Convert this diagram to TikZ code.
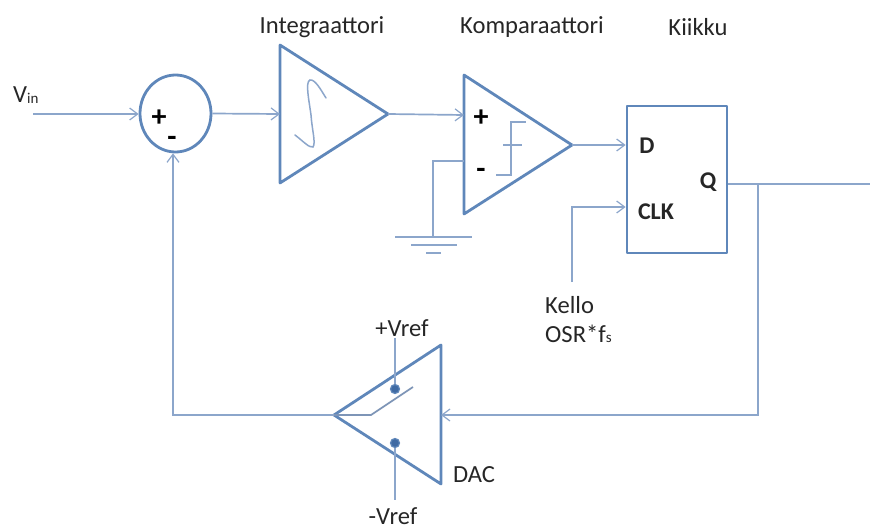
\documentclass[tikz,border=0pt]{standalone}
\usepackage{fontspec}
\setmainfont{Carlito}
\usetikzlibrary{arrows.meta,calc,shapes.geometric}
\definecolor{strong}{HTML}{5F87BA}
\definecolor{thin}{HTML}{8CA6CB}
\definecolor{dotc}{HTML}{3F6AA3}
\tikzset{
  x=1pt,y=-1pt,
  wire/.style={draw=thin,line width=1.7pt},
  arrowwire/.style={wire,-{Straight Barb[length=8pt,width=12pt,line width=1.2pt]}},
  block/.style={draw=strong,line width=2.8pt,line join=round,fill=white},
  label/.style={font=\fontsize{24.6}{26}\selectfont,text=black!85,inner sep=0pt},
  sign/.style={font=\fontsize{30}{30}\selectfont\bfseries,text=black,inner sep=0pt},
  pin/.style={font=\fontsize{24}{26}\selectfont\bfseries,text=black!85,inner sep=0pt},
  contact/.style={circle,draw=strong,fill=dotc,line width=1.2pt,minimum size=9pt,inner sep=0pt},
}
\begin{document}
\begin{tikzpicture}
\useasboundingbox (0,0) rectangle (870,530);
% named points
\coordinate (vinstart) at (33,114);
\coordinate (intA) at (280,45);
\coordinate (intB) at (280,183);
\coordinate (intT) at (388,114);
\coordinate (intIn) at (280,114);
\coordinate (cmpA) at (464,75);
\coordinate (cmpB) at (464,214);
\coordinate (cmpT) at (572,145);
\coordinate (cmpP) at (464,115);
\coordinate (cmpM) at (464,161);
\coordinate (dacT) at (334,415);
\coordinate (dacA) at (441,345);
\coordinate (dacB) at (441,484);
\coordinate (dacIn) at (441,415);
\coordinate (clkStart) at (572,282);
\coordinate (clkBend) at (572,207);
\coordinate (qEnd) at (870,184);
\coordinate (branch) at (758,184);
\coordinate (branchLow) at (758,415);
\coordinate (fbBend) at (173,415);
\coordinate (gndBend) at (433,161);
\coordinate (gnd) at (433,237);
\coordinate (upEnd) at (395,338);
\coordinate (lowEnd) at (395,500);
% filled blocks
\path[block] (intA) -- (intT) -- (intB) -- cycle;
\path[block] (cmpA) -- (cmpT) -- (cmpB) -- cycle;
\path[block] (dacT) -- (dacA) -- (dacB) -- cycle;
\node[block,ellipse,minimum width=71pt,minimum height=77pt,inner sep=0pt] (sum) at (175.5,113.5) {};
\node[block,rectangle,minimum width=100pt,minimum height=147pt,inner sep=0pt] (ff) at (677,179.5) {};
\node[contact] (up) at (395,389) {};
\node[contact] (low) at (395,443) {};
% connectors
\draw[arrowwire] (vinstart) -- (vinstart -| sum.west);
\draw[arrowwire] (sum.east) -- (intIn);
\draw[arrowwire] (intT) -- (cmpP);
\draw[arrowwire] (cmpT) -- (cmpT -| ff.west);
\draw[arrowwire] (clkStart) -- (clkBend) -- (clkBend -| ff.west);
\draw[wire] (ff.east |- qEnd) -- (qEnd);
\draw[arrowwire] (branch) -- (branchLow) -- (dacIn);
\draw[arrowwire] (dacT) -- (fbBend) -- (fbBend |- sum.south);
\draw[wire] (cmpM) -- (gndBend) -- (gnd);
\draw[wire] (395,237) -- (472,237);
\draw[wire] (411,245) -- (457,245);
\draw[wire] (426,253) -- (441,253);
\draw[wire] (upEnd) -- (up);
\draw[wire] (low) -- (lowEnd);
% switch
\draw[wire,draw=thin!90!black] (dacT) -- (371,415) -- (413,387);
% comparator symbol
\draw[wire,line width=1.5pt] (496,175) -- (511,175) -- (511,122) -- (526,122);
\draw[wire,line width=1.5pt] (503,145) -- (522,145);
% integral symbol
\draw[wire,line width=1.5pt,line cap=round] (295,135) .. controls (303,141) and (309,148) .. (313,147)
  .. controls (316,143) and (312,130) .. (311,115)
  .. controls (309,100) and (305,82) .. (310,80)
  .. controls (315,79) and (321,90) .. (326,98);
% labels
\node[label] (l1) at (322,27) {Integraattori};
\node[label] (l2) at (532,27) {Komparaattori};
\node[label] (l3) at (698,27) {Kiikku};
\node[label,anchor=west] (lv) at (13,95) {V\raisebox{-0.5pt}{\fontsize{15}{15}\selectfont in}};
\node[sign] (s1) at (159,118) {+};
\node[sign] (s2) at (172,141) {-};
\node[sign] (s3) at (481,118) {+};
\node[sign] (s4) at (481,173) {-};
\node[pin] (pd) at (647,146) {D};
\node[pin] (pq) at (708,182) {Q};
\node[pin] (pc) at (656,212) {CLK};
\node[label,anchor=west] (k1) at (545,305) {Kello};
\node[label,anchor=west] (k2) at (545,334) {OSR*f\raisebox{-0.5pt}{\fontsize{15}{15}\selectfont s}};
\node[label] (vp) at (402,328) {+Vref};
\node[label] (vm) at (393,516) {-Vref};
\node[label] (dac) at (474,475) {DAC};
\end{tikzpicture}
\end{document}
